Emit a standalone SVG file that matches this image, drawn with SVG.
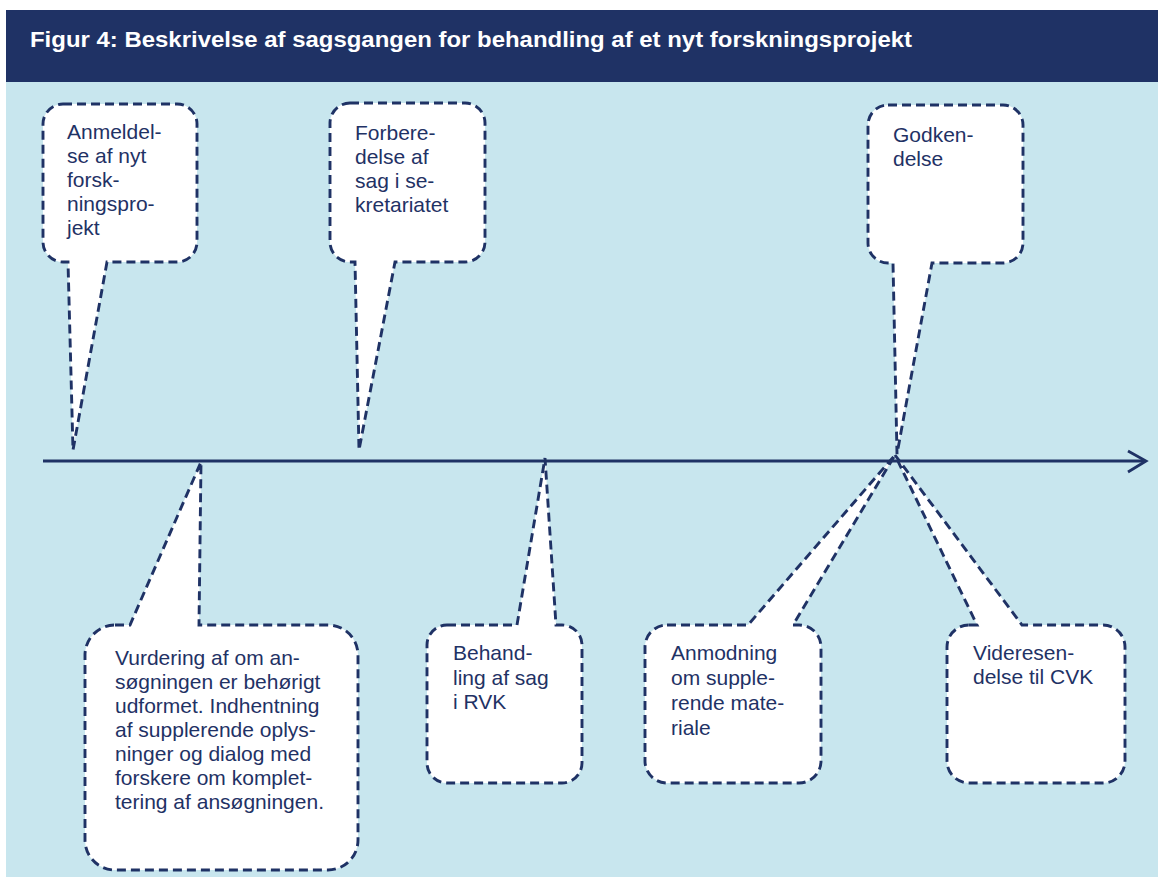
<svg xmlns="http://www.w3.org/2000/svg" width="1158" height="877" viewBox="0 0 1158 877">
<style>
.bg{fill:#c8e6ee}
.band{fill:#1f3265}
.title{font-family:"Liberation Sans",Arial,sans-serif;font-weight:bold;font-size:22px;fill:#ffffff}
.co{fill:#ffffff;stroke:#1f3265;stroke-width:2.9;stroke-dasharray:9 5;stroke-linejoin:miter}
.t{font-family:"Liberation Sans",Arial,sans-serif;font-size:21px;fill:#1f3265}
.axis{stroke:#1f3265;stroke-width:2.8;fill:none}
</style>
<rect x="0" y="0" width="1158" height="877" fill="#ffffff"/>
<rect class="bg" x="6" y="82" width="1152" height="795"/>
<rect class="band" x="6" y="10" width="1152" height="72"/>
<text class="title" x="30" y="47" textLength="882" lengthAdjust="spacingAndGlyphs">Figur 4: Beskrivelse af sagsgangen for behandling af et nyt forskningsprojekt</text>

<g id="n1">
<path class="co" d="M63,104 H177 A20,20 0 0 1 197,124 V242 A20,20 0 0 1 177,262 H107 L73,450 L68,262 H63 A20,20 0 0 1 43,242 V124 A20,20 0 0 1 63,104 Z"/>
<text class="t"><tspan x="67" y="139">Anmeldel-</tspan><tspan x="67" y="163">se af nyt</tspan><tspan x="67" y="187">forsk-</tspan><tspan x="67" y="211">ningspro-</tspan><tspan x="67" y="235">jekt</tspan></text>
</g>
<g id="n2">
<path class="co" d="M350,103 H465 A20,20 0 0 1 485,123 V242 A20,20 0 0 1 465,262 H395 L359,450 L355,262 H350 A20,20 0 0 1 330,242 V123 A20,20 0 0 1 350,103 Z"/>
<text class="t"><tspan x="355" y="140">Forbere-</tspan><tspan x="355" y="164">delse af</tspan><tspan x="355" y="188">sag i se-</tspan><tspan x="355" y="212">kretariatet</tspan></text>
</g>
<g id="n3">
<path class="co" d="M888,105 H1003 A20,20 0 0 1 1023,125 V243 A20,20 0 0 1 1003,263 H932 L897,454 L893,263 H888 A20,20 0 0 1 868,243 V125 A20,20 0 0 1 888,105 Z"/>
<text class="t"><tspan x="893" y="142">Godken-</tspan><tspan x="893" y="166">delse</tspan></text>
</g>
<g id="n4">
<path class="co" d="M115,625 H130 L201,462 L199,625 H328 A30,30 0 0 1 358,655 V840 A30,30 0 0 1 328,870 H115 A30,30 0 0 1 85,840 V655 A30,30 0 0 1 115,625 Z"/>
<text class="t"><tspan x="115" y="665">Vurdering af om an-</tspan><tspan x="115" y="689">søgningen er behørigt</tspan><tspan x="115" y="713">udformet. Indhentning</tspan><tspan x="115" y="737">af supplerende oplys-</tspan><tspan x="115" y="761">ninger og dialog med</tspan><tspan x="115" y="785">forskere om komplet-</tspan><tspan x="115" y="809">tering af ansøgningen.</tspan></text>
</g>
<g id="n5">
<path class="co" d="M447,625 H517 L545,458 L556,625 H562 A20,20 0 0 1 582,645 V763 A20,20 0 0 1 562,783 H447 A20,20 0 0 1 427,763 V645 A20,20 0 0 1 447,625 Z"/>
<text class="t"><tspan x="453" y="660">Behand-</tspan><tspan x="453" y="685">ling af sag</tspan><tspan x="453" y="709">i RVK</tspan></text>
</g>
<g id="n6">
<path class="co" d="M667,625 H748 L895,455 L793,625 H799 A22,22 0 0 1 821,647 V761 A22,22 0 0 1 799,783 H667 A22,22 0 0 1 645,761 V647 A22,22 0 0 1 667,625 Z"/>
<text class="t"><tspan x="671" y="660">Anmodning</tspan><tspan x="671" y="685">om supple-</tspan><tspan x="671" y="710">rende mate-</tspan><tspan x="671" y="735">riale</tspan></text>
</g>
<g id="n7">
<path class="co" d="M969,625 H977 L895,455 L1022,625 H1103 A22,22 0 0 1 1125,647 V761 A22,22 0 0 1 1103,783 H969 A22,22 0 0 1 947,761 V647 A22,22 0 0 1 969,625 Z"/>
<text class="t"><tspan x="973" y="660">Videresen-</tspan><tspan x="973" y="684">delse til CVK</tspan></text>
</g>

<g id="connectors">
<line class="axis" x1="43" y1="461" x2="1145" y2="461"/>
<polyline class="axis" points="1128,451 1146,461 1128,472" stroke-linejoin="miter"/>
</g>
</svg>
